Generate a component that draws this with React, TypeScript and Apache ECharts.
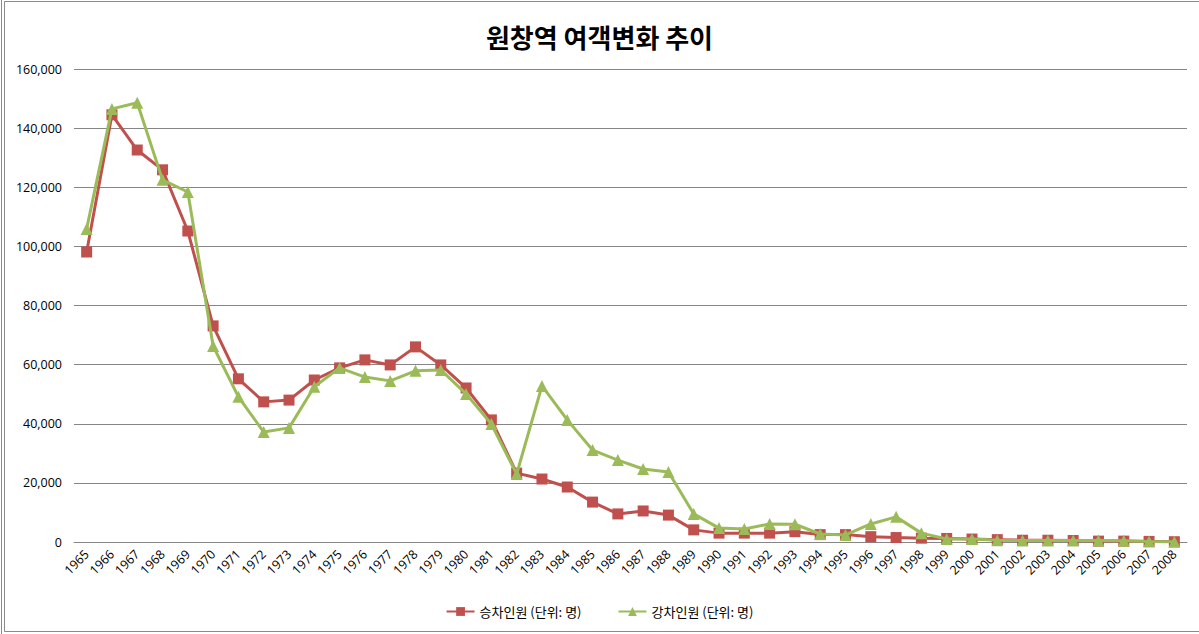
import React, { useEffect, useRef } from "react";
import * as echarts from "echarts";

const years = [
  "1965","1966","1967","1968","1969","1970","1971","1972","1973","1974",
  "1975","1976","1977","1978","1979","1980","1981","1982","1983","1984",
  "1985","1986","1987","1988","1989","1990","1991","1992","1993","1994",
  "1995","1996","1997","1998","1999","2000","2001","2002","2003","2004",
  "2005","2006","2007","2008",
];

const boarding = [
  98100, 144500, 132600, 125900, 105200, 73100, 55200, 47400, 48000, 54800,
  58900, 61600, 59900, 66000, 59900, 52100, 41300, 23300, 21300, 18600,
  13500, 9500, 10500, 9100, 4100, 3000, 3000, 3000, 3500, 2500,
  2500, 1800, 1500, 1300, 1200, 1000, 800, 600, 600, 500,
  300, 300, 200, 100,
];

const alighting = [
  105900, 146500, 148600, 122500, 118400, 66300, 49100, 37200, 38600, 52500,
  58900, 55800, 54500, 57900, 58200, 50100, 39900, 23000, 52800, 41300,
  31100, 27700, 24700, 23700, 9500, 4700, 4400, 6100, 6000, 2700,
  2400, 6100, 8500, 3000, 1000, 1000, 600, 500, 500, 500,
  500, 400, 200, 100,
];

const seriesNames = ["승차인원 (단위: 명)", "강차인원 (단위: 명)"];
const titleText = "원창역 여객변화 추이";

export default function App() {
  const ref = useRef<HTMLDivElement>(null);
  useEffect(() => {
    if (!ref.current) return;
    const chart = echarts.init(ref.current, null, { renderer: "svg" });
    const font = "'Noto Sans CJK KR', 'Open Sans', sans-serif";
    chart.setOption({
      animation: false,
      backgroundColor: "#ffffff",
      title: {
        text: titleText,
        left: "center",
        top: 18,
        textStyle: { fontFamily: font, fontSize: 26, fontWeight: "bold", color: "#000" },
      },
      graphic: [
        {
          type: "rect",
          shape: { x: 4.5, y: 1.5, width: 1210, height: 630 },
          style: { fill: "none", stroke: "#8a8a8a", lineWidth: 1 },
          silent: true,
          z: -1,
        },
        {
          type: "line",
          shape: { x1: 1.5, y1: 0, x2: 1.5, y2: 634 },
          style: { stroke: "#8a8a8a", lineWidth: 1 },
          silent: true,
        },
      ],
      legend: {
        bottom: 11,
        left: "center",
        itemWidth: 28,
        itemHeight: 11,
        itemGap: 36,
        textStyle: { fontFamily: font, fontSize: 13, color: "#000" },
        data: [seriesNames[0], seriesNames[1]],
      },
      grid: { left: 74, right: 12, top: 69, bottom: 92, containLabel: false },
      xAxis: {
        type: "category",
        data: years,
        boundaryGap: true,
        axisLine: { show: true, lineStyle: { color: "#868686", width: 1 } },
        axisTick: { show: false },
        axisLabel: {
          rotate: 45,
          margin: 10,
          fontFamily: "'Open Sans', sans-serif",
          fontSize: 12.5,
          color: "#000",
          interval: 0,
        },
      },
      yAxis: {
        type: "value",
        min: 0,
        max: 160000,
        interval: 20000,
        axisLine: { show: false },
        axisTick: { show: false },
        splitLine: { lineStyle: { color: "#868686", width: 1 } },
        axisLabel: {
          margin: 12,
          fontFamily: "'Open Sans', sans-serif",
          fontSize: 12.5,
          color: "#000",
          formatter: (v: number) => v.toLocaleString("en-US"),
        },
      },
      series: [
        {
          name: seriesNames[0],
          type: "line",
          data: boarding,
          symbol: "rect",
          symbolSize: 11,
          itemStyle: { color: "#C0504D" },
          lineStyle: { color: "#C0504D", width: 3 },
          z: 2,
        },
        {
          name: seriesNames[1],
          type: "line",
          data: alighting,
          symbol: "triangle",
          symbolSize: 12,
          itemStyle: { color: "#9BBB59" },
          lineStyle: { color: "#9BBB59", width: 3 },
          z: 3,
        },
      ],
    });
    return () => chart.dispose();
  }, []);
  return <div ref={ref} style={{ width: 1199, height: 634, position: "absolute", left: 0, top: 0 }} />;
}
